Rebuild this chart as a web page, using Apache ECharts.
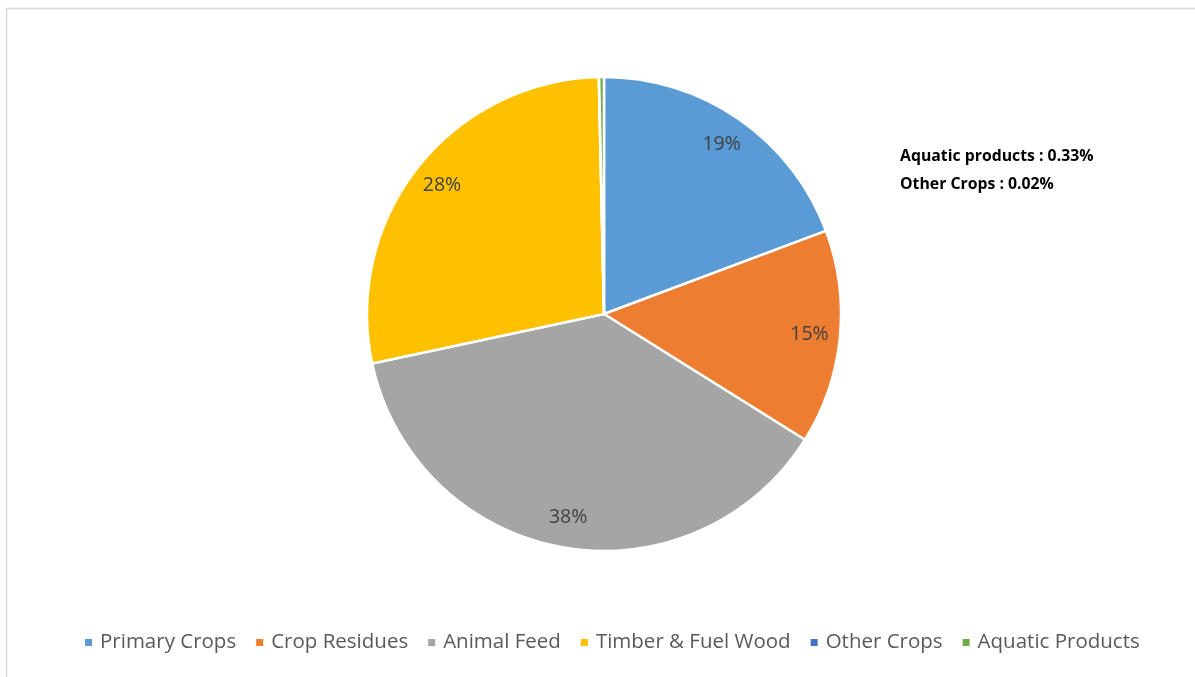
<!DOCTYPE html>
<html>
<head>
<meta charset="utf-8">
<script src="https://cdn.jsdelivr.net/npm/echarts@6/dist/echarts.min.js"></script>
<style>
html,body{margin:0;padding:0;background:#fff;}
#c{width:1195px;height:677px;}
</style>
</head>
<body>
<div id="c"></div>
<script>
const categories = ['Primary Crops', 'Crop Residues', 'Animal Feed', 'Timber & Fuel Wood', 'Other Crops', 'Aquatic Products'];
const values = [19.3, 14.6, 37.75, 28.0, 0.02, 0.33];
const colors = ['#5b9bd5', '#ed7d31', '#a5a5a5', '#ffc000', '#4472c4', '#70ad47'];
const noteLines = ['Aquatic products : 0.33%', 'Other Crops : 0.02%'];

const FONT = 'Open Sans';
const data = categories.map((n, i) => ({ name: n, value: values[i], itemStyle: { color: colors[i] } }));

const chart = echarts.init(document.getElementById('c'));
chart.setOption({
  animation: false,
  backgroundColor: '#fff',
  graphic: [
    { type: 'rect', shape: { x: 6.5, y: 8.5, width: 1300, height: 800 }, style: { fill: 'none', stroke: '#d9d9d9', lineWidth: 1.5 }, silent: true },
    { type: 'text', left: 900, top: 142, style: { text: noteLines.join('\n'), font: 'bold 15.8px "Open Sans"', fill: '#000', lineHeight: 28 } }
  ],
  legend: {
    bottom: 19,
    left: 78,
    itemWidth: 9,
    itemHeight: 9,
    itemGap: 18,
    icon: 'rect',
    textStyle: { fontFamily: FONT, fontSize: 20.5, color: '#595959', padding: [0, 0, 0, 2] },
    data: categories
  },
  series: [
    {
      type: 'pie',
      center: [604, 314],
      radius: [0, 237],
      startAngle: 90,
      clockwise: true,
      avoidLabelOverlap: false,
      itemStyle: { borderColor: '#fff', borderWidth: 2.5 },
      label: { show: false },
      labelLine: { show: false },
      data: data
    },
    {
      type: 'pie',
      center: [604, 314],
      radius: [170, 237],
      startAngle: 90,
      clockwise: true,
      silent: true,
      avoidLabelOverlap: false,
      legendHoverLink: false,
      itemStyle: { color: 'transparent', borderWidth: 0 },
      label: {
        show: true,
        position: 'inside',
        fontFamily: FONT,
        fontSize: 19.5,
        color: '#404040',
        formatter: p => p.value >= 1 ? Math.round(p.value) + '%' : ''
      },
      labelLine: { show: false },
      data: categories.map((n, i) => ({ name: n + ' ', value: values[i] }))
    }
  ]
});
</script>
</body>
</html>
